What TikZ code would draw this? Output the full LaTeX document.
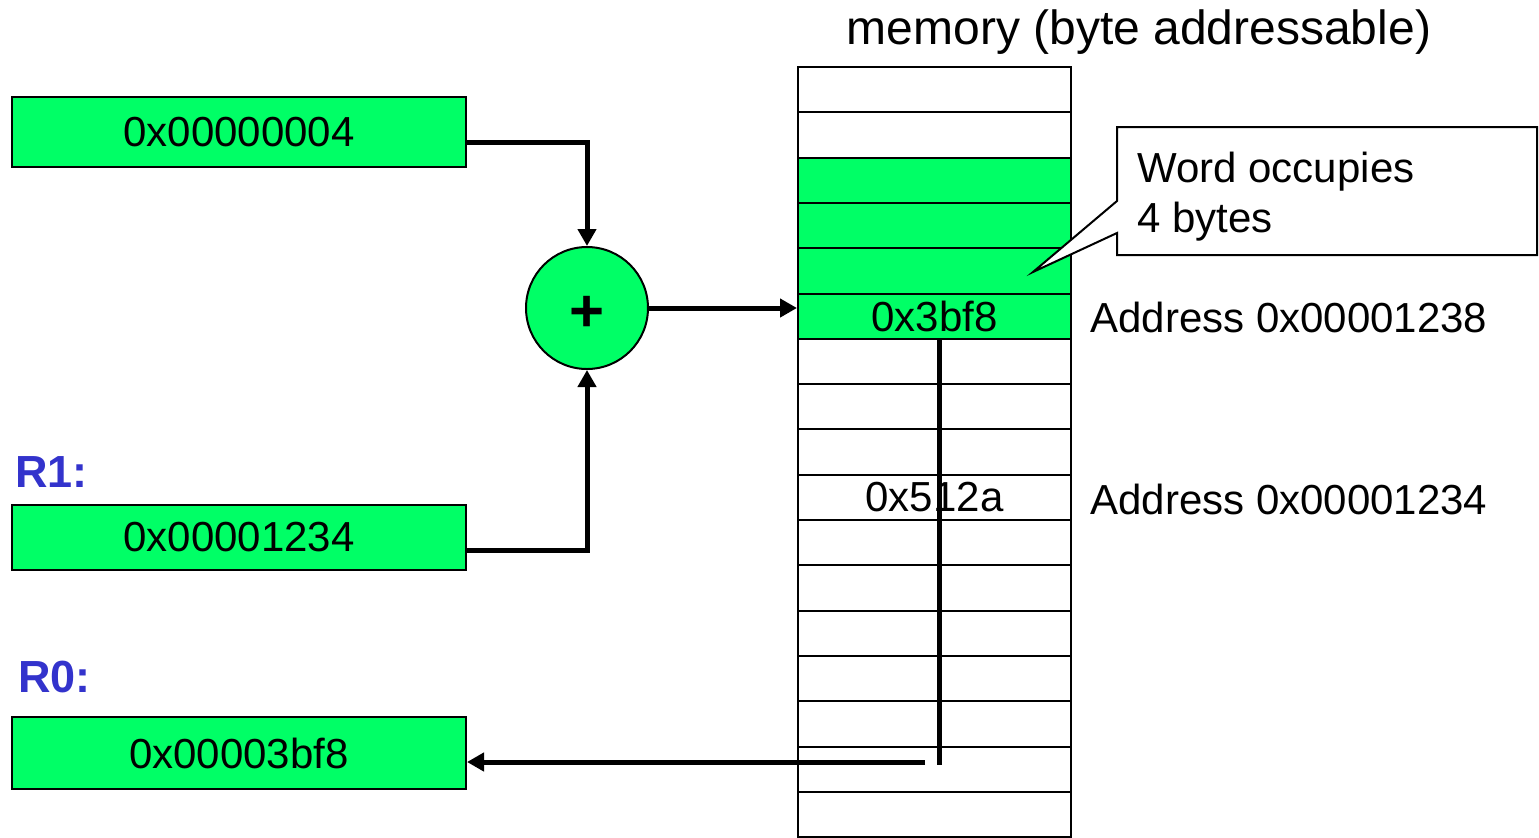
\documentclass[tikz,border=0pt]{standalone}
\usepackage{fontspec}
\setmainfont{Liberation Sans}
\usetikzlibrary{arrows.meta,calc}
\definecolor{cellgreen}{RGB}{0,255,102}
\definecolor{regblue}{RGB}{51,51,204}

\begin{document}
\begin{tikzpicture}[x=0.5pt,y=-0.5pt,
  txt/.style={font=\fontsize{21}{25}\selectfont},
  reg/.style={txt,draw=black,line width=1pt,fill=cellgreen,minimum width=227pt,inner sep=0pt},
  memcell/.style={txt,draw=black,line width=1pt,fill=white,minimum width=136.5pt,minimum height=22.65pt,inner sep=0pt},
  reglabel/.style={font=\fontsize{22.5}{26}\selectfont\bfseries,text=regblue,anchor=base west,inner sep=0pt},
  plain/.style={txt,anchor=base west,inner sep=0pt},
  flow/.style={line width=2.5pt,-{Triangle[length=8.5pt,width=9pt]}},
  wire/.style={line width=2.5pt}
]
\useasboundingbox (0,0) rectangle (1539,837);

% title
\node[font=\fontsize{24}{28}\selectfont,anchor=base,inner sep=0pt] (title) at (1139,44) {memory (byte addressable)};

% memory column
\foreach \k in {0,1,6,7,8,9,10,11,12,13,14,15,16} {
  \node[memcell] (m\k) at (934.5,{67+45.3*\k+22.65}) {};
}
\foreach \k in {2,3,4,5} {
  \node[memcell,fill=cellgreen] (m\k) at (934.5,{67+45.3*\k+22.65}) {};
}
\node[txt,inner sep=0pt] (v5) at (m5) {0x3bf8};
\node[txt,inner sep=0pt] (v9) at (m9) {0x512a};

% address notes
\node[plain] (a5) at (1090,332) {Address 0x00001238};
\node[plain] (a9) at (1090,514) {Address 0x00001234};

% callout
\path[draw=black,line width=1pt,fill=white]
  (1117,127) -- (1537,127) -- (1537,255) -- (1117,255) -- (1117,233)
  -- (1033,272) -- (1117,201) -- cycle;
\node[plain] (w1) at (1137,182) {Word occupies};
\node[plain] (w2) at (1137,232) {4 bytes};

% registers
\node[reg,minimum height=35pt] (imm) at (239,132) {0x00000004};
\node[reglabel] (r1lab) at (15,487) {R1:};
\node[reg,minimum height=32.5pt] (r1) at (239,537.5) {0x00001234};
\node[reglabel] (r0lab) at (18,692) {R0:};
\node[reg,minimum height=36pt] (r0) at (239,753) {0x00003bf8};

% adder
\node[circle,draw=black,line width=1pt,fill=cellgreen,minimum size=61pt,inner sep=0pt] (add) at (587,308) {};
\node[font=\fontsize{30}{32}\selectfont\bfseries,inner sep=0pt] (plus) at (587,314) {+};

% data paths
\draw[flow] ($(imm.east)+(0,10)$) -| (add.north);
\draw[flow] ($(r1.east)+(0,12.5)$) -| (add.south);
\draw[flow] (add.east) -- (add.east -| m5.west);
\coordinate (tapend) at (939,765);
\draw[wire] (m5.south -| tapend) -- (tapend);
\coordinate (tapstart) at (925,762);
\draw[flow] (tapstart) -- (tapstart -| r0.east);
\end{tikzpicture}
\end{document}
